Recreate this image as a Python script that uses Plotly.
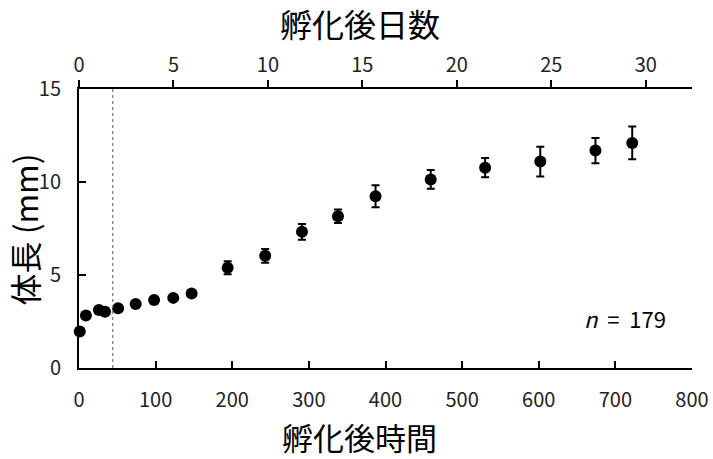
import plotly.graph_objects as go

# Data
hours = [1, 9, 26, 34, 51, 74, 98, 123, 147, 194, 243, 291, 338, 387, 459, 530, 602, 674, 722]
length_mm = [1.96, 2.82, 3.12, 3.03, 3.21, 3.44, 3.66, 3.77, 4.0, 5.39, 6.03, 7.32, 8.16, 9.23, 10.14, 10.77, 11.1, 11.69, 12.1]
err_mm = [0.1, 0.1, 0.1, 0.1, 0.1, 0.12, 0.15, 0.15, 0.15, 0.35, 0.37, 0.42, 0.36, 0.59, 0.5, 0.52, 0.8, 0.68, 0.88]
hour_ticks = [0, 100, 200, 300, 400, 500, 600, 700, 800]
day_ticks = [0, 5, 10, 15, 20, 25, 30]
length_ticks = [0, 5, 10, 15]
marker_hour = 44
n_label = "<i>n</i>\u00a0\u00a0=\u00a0\u00a0179"
x_title = "孵化後時間"
top_title = "孵化後日数"
y_title = "体長 (mm)"

FONT = "Noto Sans CJK JP"
days = [h / 24 for h in hours]

fig = go.Figure()
fig.add_trace(go.Scatter(
    x=hours, y=length_mm, mode="markers",
    marker=dict(color="black", size=12),
    error_y=dict(type="data", array=err_mm, color="black", thickness=2, width=4),
    cliponaxis=False, showlegend=False,
))
# invisible trace to activate top (days) axis
fig.add_trace(go.Scatter(
    x=days, y=length_mm, xaxis="x2", mode="markers",
    marker=dict(opacity=0), hoverinfo="skip", showlegend=False,
))

fig.add_shape(type="line", x0=marker_hour, x1=marker_hour, y0=0, y1=15,
              xref="x", yref="y", line=dict(color="#808080", width=1.3, dash="dot"))

fig.add_annotation(x=1.0, y=2.7, xref="paper", yref="y", xshift=-24, text=n_label, showarrow=False,
                   xanchor="right", yanchor="middle", font=dict(family=FONT, size=22, color="black"))

title_font = dict(family=FONT, size=31, color="black")
fig.add_annotation(x=0.458, y=-0.2473, xref="paper", yref="paper", text=x_title, showarrow=False,
                   xanchor="center", yanchor="middle", font=title_font)
fig.add_annotation(x=0.458, y=1.235, xref="paper", yref="paper", text=top_title, showarrow=False,
                   xanchor="center", yanchor="middle", font=dict(family=FONT, size=32, color="black"))
fig.add_annotation(x=-0.089, y=0.498, xref="paper", yref="paper", text=y_title, showarrow=False,
                   xanchor="center", yanchor="middle", textangle=-90, font=dict(family=FONT, size=32, color="black"))

axis_common = dict(showgrid=False, zeroline=False, showline=True, linecolor="black",
                   linewidth=2, ticklen=7, tickwidth=1.5, tickcolor="black", automargin=False,
                   tickfont=dict(family=FONT, size=20, color="#222"))

fig.update_layout(
    width=713, height=459,
    margin=dict(l=79, r=21, t=89, b=91),
    plot_bgcolor="white", paper_bgcolor="white",
    xaxis=dict(range=[0, 800], tickvals=hour_ticks, ticks="inside", ticklabelstandoff=13,
               **axis_common),
    xaxis2=dict(range=[0, 32.45], overlaying="x", side="top", anchor="y",
                tickvals=day_ticks, ticks="outside", **axis_common),
    yaxis=dict(range=[0, 15], tickvals=length_ticks, ticks="inside", ticklabelstandoff=12,
               **axis_common),
)

fig.write_html("out.html")
